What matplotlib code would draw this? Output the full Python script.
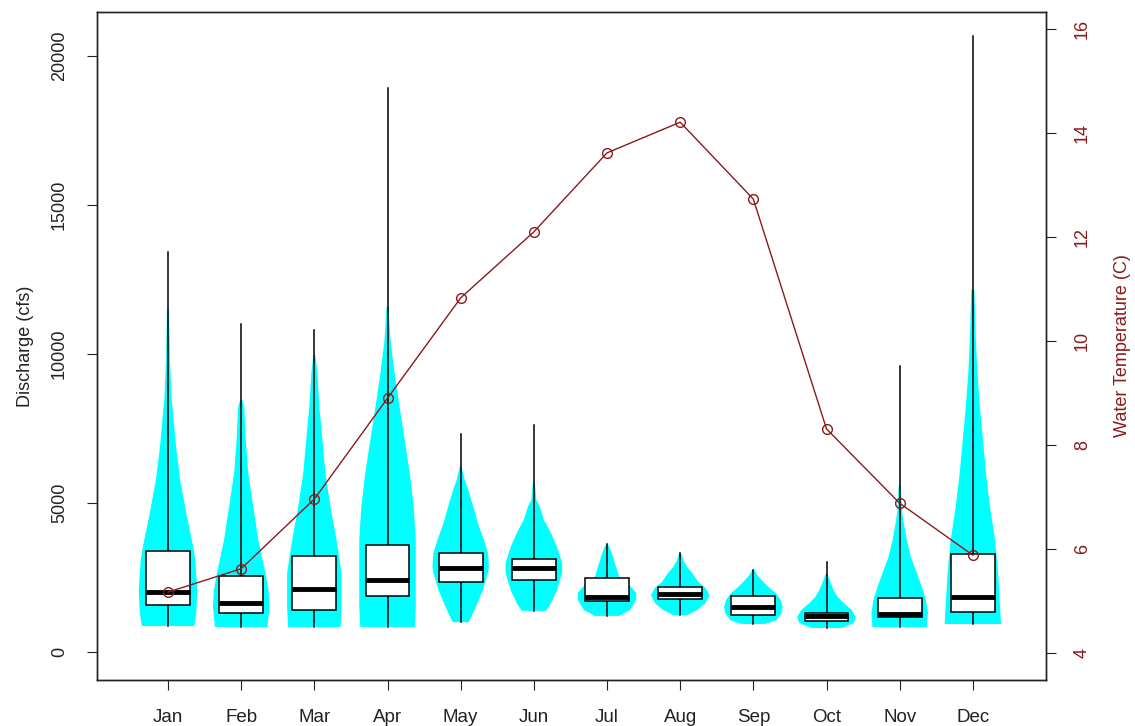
import numpy as np
import matplotlib
matplotlib.use('Agg')
import matplotlib.pyplot as plt

plt.rcParams['font.family'] = ['Liberation Sans', 'DejaVu Sans']

months = ['Jan', 'Feb', 'Mar', 'Apr', 'May', 'Jun',
          'Jul', 'Aug', 'Sep', 'Oct', 'Nov', 'Dec']

# boxplot stats of monthly discharge (cfs)
q_min = [870, 840, 840, 840, 1000, 1380, 1210, 1240, 940, 805, 840, 940]
q_lo  = [1580, 1310, 1410, 1880, 2350, 2420, 1710, 1780, 1240, 1040, 1175, 1340]
q_med = [2010, 1645, 2115, 2420, 2820, 2820, 1845, 1950, 1510, 1210, 1275, 1845]
q_hi  = [3390, 2550, 3220, 3590, 3320, 3120, 2480, 2180, 1880, 1310, 1810, 3290]
q_max = [13420, 11010, 10800, 18930, 7320, 7620, 3620, 3320, 2750, 3020, 9600, 20670]

# kernel density outline of each month: discharge levels and relative density
dens_levels = [
    [870, 1310, 2080, 3090, 3520, 4670, 5770, 6880, 8560, 9800, 11480],
    [840, 1510, 2080, 2650, 3760, 4870, 6010, 7120, 8220, 8460],
    [840, 1510, 2650, 3760, 4870, 6010, 7120, 8220, 9360, 9970],
    [840, 1510, 2650, 3760, 4870, 6010, 7120, 8220, 9360, 10470, 11580],
    [1000, 1510, 2080, 2650, 2850, 3320, 3760, 4330, 4870, 5440, 5770, 6210],
    [1380, 1640, 2080, 2650, 2990, 3520, 3990, 4430, 4870, 5100, 5670],
    [1210, 1410, 1750, 1980, 2250, 2520, 2850, 3190, 3520, 3620],
    [1240, 1410, 1640, 1910, 2150, 2350, 2650, 2850, 3090, 3320],
    [940, 1070, 1310, 1510, 1750, 1980, 2180, 2420, 2580, 2750],
    [805, 970, 1180, 1410, 1640, 1850, 2080, 2420, 2620],
    [840, 1310, 1750, 2180, 2650, 3190, 3760, 4330, 4670, 5600],
    [940, 1510, 2650, 3760, 4870, 6010, 7120, 8220, 9360, 10470, 12150],
]
dens_values = [
    [26, 28, 29, 27, 25, 18, 12, 8, 3.5, 2, 1],
    [26, 28, 27, 24, 17, 12, 7, 4.5, 3, 1],
    [26, 27, 27, 22, 16, 11, 8, 5, 3, 1],
    [27, 28, 28, 28, 26, 22, 17, 12, 7, 3, 1],
    [8, 15, 22, 27, 28, 27, 23, 17, 12.5, 7.5, 4, 1],
    [12, 17, 23, 28, 28, 23, 17, 10, 6, 2.5, 1],
    [12, 23, 29, 29, 22, 12, 9, 6, 2.5, 0.5],
    [7, 17, 25, 29, 25, 18, 12, 7, 3, 1],
    [12, 23, 28, 29, 27, 22, 15, 8, 4, 1],
    [15, 27, 29, 25, 17, 11, 7, 3, 1],
    [27, 28, 26, 22, 17, 11, 7, 4, 2.5, 1],
    [28, 27, 25, 22, 17, 13, 10, 7, 4.5, 3, 1.5],
]

# mean monthly water temperature (C)
temp = [5.17, 5.62, 6.96, 8.90, 10.83, 12.10, 13.62, 14.21, 12.73, 8.31, 6.88, 5.88]

fig = plt.figure(figsize=(11.35, 7.26), dpi=100)
ax = fig.add_axes([0.0855, 0.0634, 0.8361, 0.9201])

pos = np.arange(1, 13)
dmax = max(max(d) for d in dens_values)
vhalf = 0.4
bhalf = 0.3

for i, p in enumerate(pos):
    lev = np.array(dens_levels[i])
    w = np.array(dens_values[i]) / dmax * vhalf
    xs = np.concatenate([p - w, (p + w)[::-1]])
    ys = np.concatenate([lev, lev[::-1]])
    ax.fill(xs, ys, color='#00FFFF', lw=0, zorder=1)
    ax.plot([p, p], [q_min[i], q_max[i]], color='black', lw=1.1, zorder=2)
    ax.add_patch(plt.Rectangle((p - bhalf, q_lo[i]), 2 * bhalf, q_hi[i] - q_lo[i],
                               facecolor='white', edgecolor='black', lw=1.1, zorder=3))
    ax.plot([p - bhalf, p + bhalf], [q_med[i], q_med[i]], color='black', lw=3.5,
            solid_capstyle='butt', zorder=4)

ax.set_xlim(0.03, 13.0)
ax.set_ylim(-940, 21480)
ax.set_xticks(pos)
ax.set_xticklabels(months)
ax.set_yticks([0, 5000, 10000, 15000, 20000])
ax.tick_params(axis='y', labelrotation=90, length=7, pad=14, labelsize=13, colors='#222222')
ax.tick_params(axis='x', length=7, pad=14, labelsize=13.5, colors='#222222')
for lab in ax.get_yticklabels():
    lab.set_va('center')
ax.set_ylabel('Discharge (cfs)', fontsize=13, color='#222222', labelpad=12)

ax2 = ax.twinx()
ax2.plot(pos, temp, color='#8B1A1A', lw=1, marker='o', ms=7,
         mfc='none', mec='#8B1A1A', mew=1)
ax2.set_ylim(3.48, 16.33)
ax2.set_yticks([4, 6, 8, 10, 12, 14, 16])
ax2.tick_params(axis='y', labelrotation=90, length=7, pad=13, labelsize=13,
                labelcolor='#8B1A1A', color='#222222')
for lab in ax2.get_yticklabels():
    lab.set_va('center')
ax2.set_ylabel('Water Temperature (C)', fontsize=13, color='#8B1A1A', labelpad=17)

for a in (ax, ax2):
    for s in a.spines.values():
        s.set_color('#222222')
        s.set_linewidth(1)

fig.savefig('out.png', dpi=100)
